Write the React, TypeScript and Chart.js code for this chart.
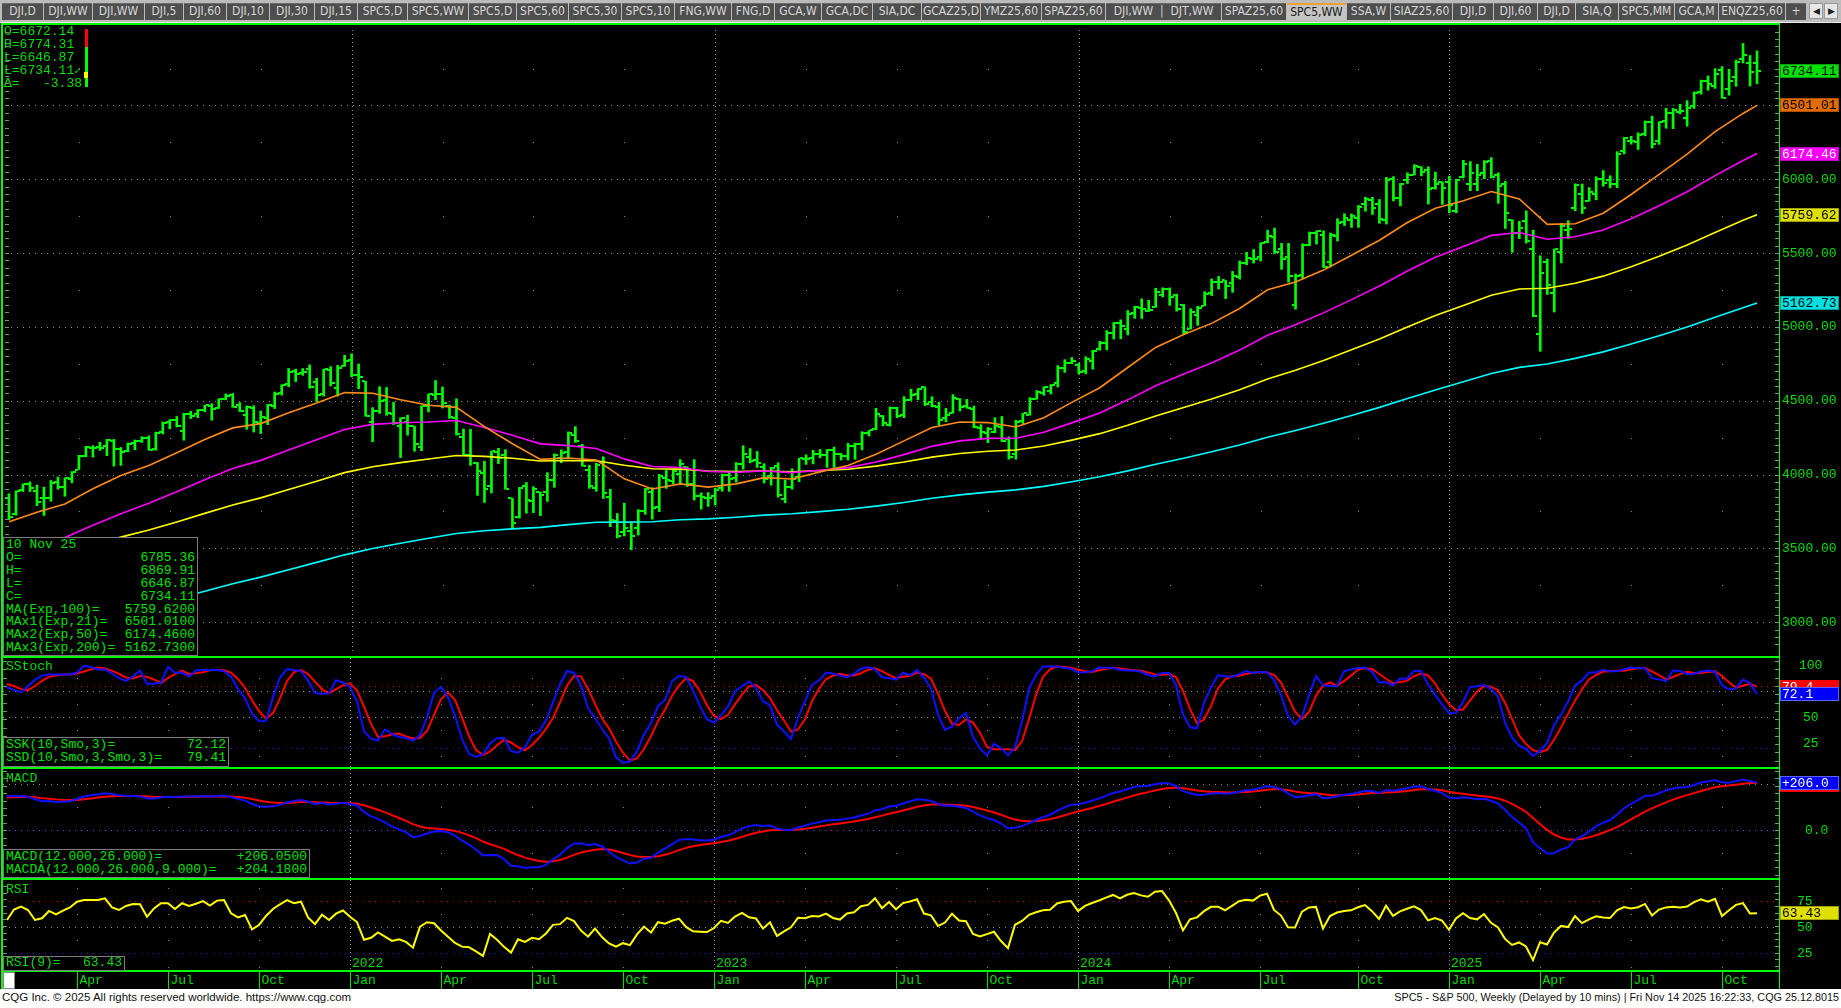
import React, { useEffect, useRef } from 'react';
import { Chart, registerables } from 'chart.js';

Chart.register(...registerables);

// ---------------- data (weekly bars, index 0 = week of 25 Jan 2021, index 250 = week of 10 Nov 2025) -------------
const opens = [3844,3731,3892,3939,3886,3843,3844,3949,3917,3969,4034,4124,4179,4185,4192,4228,4170,4160,4216,4229,4248,4173,4285,4356,4372,4297,4409,4407,4437,4462,4450,4514,4536,4469,4402,4454,4348,4385,4463,4553,4610,4701,4689,4712,4628,4548,4710,4587,4733,4778,4671,4632,4356,4432,4505,4412,4332,4354,4327,4189,4462,4541,4548,4462,4385,4255,4131,4081,4013,3920,4151,4135,3838,3715,3920,3820,3880,3883,3966,4113,4155,4269,4195,4034,3909,4083,3849,3682,3609,3620,3638,3755,3881,3780,3978,3956,4006,4053,3939,3853,3843,3853,3911,3999,3979,4070,4119,4097,4053,3992,4055,3835,3917,3982,4103,4110,4139,4134,4166,4136,4127,4190,4205,4283,4308,4396,4337,4450,4405,4502,4547,4590,4491,4459,4382,4415,4510,4462,4445,4314,4284,4289,4320,4239,4140,4364,4406,4511,4554,4569,4618,4725,4758,4745,4703,4772,4853,4888,4957,5026,4989,5093,5131,5111,5132,5219,5257,5218,5149,4987,5084,5143,5233,5306,5315,5297,5341,5432,5460,5471,5572,5611,5528,5476,5151,5353,5557,5637,5624,5442,5615,5711,5727,5737,5836,5857,5833,5723,6002,5875,5992,6032,6083,6063,5940,5979,5982,5788,6014,5969,5969,6046,6121,6026,5968,5725,5635,5718,5527,4953,5441,5232,5508,5655,5808,5902,5855,5897,6005,5993,5970,6193,6259,6256,6305,6390,6261,6397,6452,6458,6416,6498,6594,6663,6632,6737,6613,6690,6814,6790,6785.36];
const highs = [3870,3889,3937,3950,3929,3915,3960,3983,3978,4020,4130,4191,4195,4219,4238,4238,4183,4213,4234,4256,4262,4287,4356,4372,4393,4415,4429,4440,4468,4480,4513,4546,4549,4487,4465,4466,4430,4475,4559,4608,4718,4714,4718,4743,4652,4713,4731,4740,4808,4818,4749,4632,4453,4595,4590,4490,4385,4402,4327,4465,4546,4637,4593,4471,4513,4308,4307,4082,4090,4158,4178,4169,3838,3913,3946,3918,3880,4013,4140,4168,4289,4325,4204,4062,4077,4120,3900,3736,3806,3670,3762,3905,3911,4001,4028,4034,4101,4053,4101,3876,3878,3907,4003,4015,4081,4195,4176,4156,4073,4049,4079,3963,4039,4110,4133,4164,4170,4170,4186,4143,4212,4213,4290,4299,4448,4400,4458,4456,4528,4578,4582,4594,4527,4490,4448,4541,4514,4509,4464,4338,4319,4385,4393,4256,4367,4415,4521,4569,4595,4609,4738,4778,4793,4754,4798,4842,4903,4975,5030,5048,5111,5140,5190,5180,5262,5265,5264,5222,5152,5123,5139,5239,5325,5342,5315,5376,5447,5505,5524,5570,5655,5670,5566,5566,5358,5563,5643,5651,5651,5636,5733,5767,5765,5823,5879,5878,5863,6013,6018,5972,6044,6099,6085,6085,6049,5983,6021,6000,6128,6120,6101,6127,6147,6044,5986,5725,5715,5786,5655,5482,5460,5528,5700,5720,5969,5968,5944,6017,6059,6024,6187,6284,6291,6315,6395,6428,6390,6481,6480,6508,6533,6592,6672,6700,6750,6764,6745,6807,6920,6838,6869.91];
const lows = [3694,3725,3885,3885,3789,3723,3819,3901,3853,3944,4034,4120,4118,4164,4128,4057,4062,4155,4168,4218,4165,4165,4275,4310,4322,4233,4379,4385,4425,4368,4448,4506,4456,4427,4306,4288,4278,4338,4447,4538,4595,4630,4672,4585,4495,4532,4600,4531,4733,4662,4582,4395,4222,4414,4401,4339,4115,4267,4158,4162,4424,4506,4451,4381,4267,4128,4062,3859,3811,3875,4074,3900,3637,3705,3738,3742,3722,3818,3913,4080,4112,4218,4057,3907,3887,3838,3647,3571,3584,3491,3590,3731,3698,3749,3906,3939,3940,3919,3827,3765,3784,3794,3887,3886,3949,4037,4079,4048,3943,3928,3847,3809,3901,3951,4069,4072,4113,4049,4048,4098,4099,4103,4167,4261,4304,4329,4328,4385,4385,4502,4507,4467,4458,4335,4357,4415,4431,4449,4316,4238,4216,4283,4223,4104,4104,4346,4402,4511,4537,4546,4593,4692,4751,4682,4682,4714,4842,4845,4918,4920,4946,5058,5057,5104,5132,5203,5146,5107,4954,4986,5011,5142,5212,5257,5192,5234,5324,5421,5433,5447,5570,5497,5390,5303,5120,5330,5550,5561,5402,5406,5582,5687,5674,5674,5784,5762,5702,5697,5853,5820,5972,6030,6024,5832,5933,5830,5774,5773,6009,5923,5923,6004,6009,5837,5667,5505,5598,5568,5069,4835,5220,5101,5434,5598,5786,5768,5852,5861,5953,5942,5943,6172,6238,6202,6294,6212,6237,6346,6343,6444,6360,6480,6577,6603,6616,6550,6570,6630,6788,6632,6646.87];
const closes = [3714,3887,3934,3907,3811,3842,3943,3913,3975,4020,4129,4185,4180,4181,4233,4174,4156,4204,4230,4247,4166,4281,4352,4370,4327,4412,4395,4437,4468,4441,4509,4535,4459,4433,4455,4357,4391,4471,4545,4605,4697,4683,4698,4595,4538,4712,4620,4725,4766,4677,4663,4398,4432,4500,4419,4349,4385,4329,4204,4463,4543,4546,4488,4392,4272,4132,4123,4024,3901,4158,4109,3901,3675,3912,3825,3899,3863,3962,4130,4145,4280,4228,4058,3924,4067,3873,3693,3586,3640,3583,3752,3901,3771,3993,3965,4026,4072,3934,3852,3845,3840,3895,3999,3973,4071,4136,4090,4079,3970,4046,3862,3917,3971,4109,4105,4137,4133,4169,4136,4124,4191,4205,4282,4299,4410,4348,4450,4399,4505,4536,4582,4478,4464,4370,4406,4516,4457,4450,4320,4288,4308,4327,4224,4117,4358,4415,4514,4559,4595,4604,4719,4754,4770,4697,4784,4840,4891,4959,5027,5006,5089,5137,5124,5117,5234,5254,5204,5123,4967,5100,5128,5223,5303,5305,5278,5347,5432,5465,5460,5567,5615,5505,5459,5347,5344,5554,5634,5648,5408,5626,5703,5738,5751,5815,5864,5808,5729,5995,5870,5969,6032,6090,6051,5931,5971,5942,5827,5997,6101,6041,6026,6115,6013,5955,5770,5639,5668,5581,5074,5363,5283,5525,5687,5660,5958,5803,5912,6000,5977,5968,6173,6279,6260,6297,6389,6238,6389,6450,6467,6460,6482,6584,6664,6644,6716,6553,6664,6792,6840,6729,6734.11];

// moving averages read every 4 weeks
const maWeeks = [0,4,8,12,16,20,24,28,32,36,40,44,48,52,56,60,64,68,72,76,80,84,88,92,96,100,104,108,112,116,120,124,128,132,136,140,144,148,152,156,160,164,168,172,176,180,184,188,192,196,200,204,208,212,216,220,224,228,232,236,240,244,248,250];
const ema21 = [3680,3745,3800,3904,3994,4062,4148,4237,4316,4345,4419,4485,4555,4551,4507,4469,4455,4325,4209,4103,4112,4098,3971,3902,3937,3915,3937,3979,3970,4018,4061,4137,4228,4319,4356,4352,4322,4385,4489,4588,4725,4861,4948,5024,5125,5252,5304,5385,5486,5587,5707,5804,5855,5917,5867,5695,5699,5770,5897,6033,6170,6323,6446,6501.01];
const ema50 = [3450,3514,3574,3656,3735,3805,3883,3964,4041,4096,4167,4235,4305,4340,4351,4356,4366,4319,4266,4208,4196,4177,4106,4054,4048,4021,4016,4024,4013,4029,4047,4085,4135,4191,4228,4245,4246,4287,4350,4417,4506,4602,4681,4756,4843,4944,5014,5095,5185,5277,5379,5472,5545,5620,5640,5594,5611,5657,5733,5821,5916,6025,6127,6174.46];
const ema100 = [3400,3437,3474,3525,3576,3625,3679,3737,3794,3842,3899,3955,4013,4053,4081,4105,4129,4123,4110,4092,4095,4093,4063,4039,4037,4024,4021,4024,4019,4027,4036,4057,4085,4118,4143,4158,4166,4193,4233,4277,4334,4397,4454,4511,4575,4648,4707,4773,4845,4918,4999,5077,5145,5215,5257,5262,5296,5344,5408,5479,5555,5639,5722,5759.62];
const ema200 = [2900,2939,2977,3022,3068,3113,3160,3210,3260,3305,3355,3405,3456,3499,3534,3568,3601,3619,3632,3642,3661,3677,3678,3680,3694,3700,3711,3725,3734,3749,3765,3786,3811,3839,3862,3881,3896,3920,3951,3985,4025,4070,4111,4154,4200,4252,4298,4347,4400,4455,4515,4573,4628,4684,4726,4749,4787,4831,4884,4940,5000,5065,5130,5162.73];

// slow stochastic, weekly
const stochK = [
  79,76,74,80,86,90,91,91,91,91,
  93,99.5,98.4,95.9,96,92,87.5,84.9,89.1,94.8,
  82.1,82.2,83.1,98.5,92.8,93,89.1,95.2,95.5,95.5,
  95.5,94.3,89,77.1,68.4,53.3,46.1,46.4,69.3,88.4,
  96.4,95.4,94.2,85.2,73.2,72.5,72.9,85.6,83.4,78.9,
  65,36.3,29.3,27.5,38.3,33.7,30.9,30,27.2,32.7,
  50.1,73.4,79,69.1,51.6,28.8,14.7,11.7,14.2,24.7,
  29.7,29.9,17.3,15.7,21.2,32.8,36.3,47,64.3,81.7,
  94.5,92.8,80.5,58.8,49.2,38.6,29.7,11.3,6,7.4,
  17.2,33.3,44.4,60.6,66.6,84.6,89.7,88.8,75.7,60.6,
  48.1,44.7,51.7,60.6,74.7,79.8,84.3,78.3,65.4,61.5,
  42.8,36.2,29,49.2,65.5,81.3,85.3,93,92.1,90,
  88.4,91.9,96.6,98.3,96,88.5,87.8,86.2,92.8,90.5,
  95.3,88,77.9,52.2,37.7,40.9,49,54.1,31,19.9,
  13.2,24.2,20.3,13.2,21.2,45.7,77.4,90.7,98.7,98.9,
  98.7,97.5,96.7,93.1,93.2,94.2,97.8,97.6,97.5,95.5,
  95,95,93.7,90.6,89.2,92.6,92.6,80.7,52.7,40.3,
  39.3,63.6,78.8,90.4,89.4,89,91.2,94.3,92.6,93.4,
  93.3,85.7,71.2,51.3,43,50.7,71,89.5,80.6,80.1,
  79.8,94.2,96,97.3,97.9,93.8,83.7,83.6,80.5,87.2,
  87.1,94.5,94.5,81.6,71.7,62.4,53.8,54,64.5,78.9,
  79.7,81,77.3,69.7,44.8,30.4,22.6,19.4,12.6,17.5,
  24.9,42.3,52.4,64.9,80.4,85.4,93.1,93,95.6,94.1,
  94.2,96.2,97.9,97.2,97.1,87.6,86.4,84.8,94.9,94.4,
  91.6,91.8,94,94.9,93.5,80.7,76.6,77.7,86.2,82.8,
  72.12];
const stochD = [
  82,80,77,76,80,85,89,90,91,91,
  92,94,96,97.9,96.8,94.6,91.8,88.1,87.2,89.6,
  88.7,86.4,82.5,87.9,91.5,94.8,91.6,92.4,93.3,95.4,
  95.5,95.1,92.9,86.8,78.2,66.3,55.9,48.6,53.9,68,
  84.7,93.4,95.3,91.6,84.2,77,72.9,77,80.6,82.6,
  75.8,60.1,43.5,31,31.7,33.2,34.3,31.5,29.4,30,
  36.7,52.1,67.5,73.8,66.6,49.8,31.7,18.4,13.5,16.9,
  22.9,28.1,25.6,21,18.1,23.2,30.1,38.7,49.2,64.3,
  80.2,89.7,89.3,77.4,62.8,48.9,39.2,26.5,15.7,8.2,
  10.2,19.3,31.6,46.1,57.2,70.6,80.3,87.7,84.7,75,
  61.5,51.1,48.2,52.3,62.3,71.7,79.6,80.8,76,68.4,
  56.6,46.8,36,38.1,47.9,65.3,77.4,86.5,90.1,91.7,
  90.2,90.1,92.3,95.6,97,94.3,90.8,87.5,88.9,89.8,
  92.9,91.3,87.1,72.7,55.9,43.6,42.5,48,44.7,35,
  21.4,19.1,19.2,19.2,18.2,26.7,48.1,71.3,88.9,96.1,
  98.8,98.4,97.6,95.8,94.3,93.5,95.1,96.5,97.6,96.9,
  96,95.2,94.6,93.1,91.2,90.8,91.5,88.6,75.3,57.9,
  44.1,47.7,60.6,77.6,86.2,89.6,89.9,91.5,92.7,93.4,
  93.1,90.8,83.4,69.4,55.2,48.3,54.9,70.4,80.4,83.4,
  80.2,84.7,90,95.8,97.1,96.3,91.8,87,82.6,83.8,
  84.9,89.6,92,90.2,82.6,71.9,62.6,56.7,57.4,65.8,
  74.4,79.9,79.3,76,63.9,48.3,32.6,24.1,18.2,16.5,
  18.3,28.2,39.9,53.2,65.9,76.9,86.3,90.5,93.9,94.2,
  94.6,94.8,96.1,97.1,97.4,94,90.4,86.3,88.7,91.4,
  93.6,92.6,92.5,93.6,94.1,89.7,83.6,78.3,80.2,82.2,
  79.41];

// MACD(12,26) and its 9-week average, weekly
const macdLine = [
  148,147,148.3,145.4,133.9,125.8,126.1,122.5,123.2,125.9,
  135.4,145.7,151.7,154.8,159.5,156.7,151.3,149.1,147.8,146.5,
  137.3,137.7,142.1,145.4,142.9,146.1,145.6,146.9,148.6,146.1,
  148,149.8,143.5,134.8,128.2,113.8,103.9,101.3,104.1,109.9,
  120.5,126.3,130.7,124.3,113.4,117.5,111.9,114.6,118.8,113.6,
  107.1,79.7,60,49.3,33.9,15.9,4.5,-9,-29.4,-24.4,
  -13.8,-5.1,-2.8,-8.7,-22.8,-44.8,-62.2,-83,-108.2,-106.2,
  -107.3,-123.6,-153,-155.4,-162.4,-160.1,-159.4,-149.1,-125.9,-105.1,
  -76.9,-58,-56.2,-64.8,-59.4,-69.9,-91.7,-116.3,-129.9,-143.7,
  -139.3,-122.5,-118.3,-95.9,-79.5,-60.8,-41.8,-37.5,-40.2,-42.5,
  -44.2,-40.6,-29,-21.7,-7.9,8.2,17,22.8,18.4,20.8,
  7.8,1.9,1.5,12.2,20.2,28.8,34.9,42.1,44.6,45.1,
  50.4,55.1,64.2,72,86.2,91.3,102.4,105.9,115.9,124.9,
  134.1,131.5,126.9,114.3,106,107,101.9,96.2,80.2,64.2,
  52.6,44.4,29.3,8.6,11.5,18.2,31.1,44.4,57.2,67.3,
  83.6,98.3,110,112,119.3,128.1,137.6,148.9,161.4,167.7,
  177.3,186.7,190.9,191.5,199.1,204.4,202.2,191.8,168.9,159.7,
  152.9,153.4,158.4,160.6,158.4,160.4,166.9,172.7,174.9,183.1,
  191.3,186.8,177.5,159.2,142.8,145.2,151.7,156.2,138.8,140.9,
  147.2,153.2,157.2,163.7,170.8,169.9,161,173.4,171.2,175.4,
  181.7,189.2,189.8,178.5,170.8,160.5,141.4,138.4,142.8,139.8,
  134.7,136.3,127.8,115,88.9,57.1,33.8,8.2,-52.3,-76.1,
  -100.3,-98.8,-83.5,-72.7,-39.7,-25.8,-5.9,16.8,32.6,43.9,
  68.5,95.5,114,130.2,148.8,149.6,160.6,172.2,180.7,184.7,
  187.5,195.7,206.3,210.6,217.4,207.2,205.7,212.4,219.1,212.9,
  206.05];
const macdSignal = [
  142,143,144.1,144.4,142.3,139,136.4,133.6,131.5,130.4,
  131.4,134.3,137.8,141.2,144.9,147.3,148.1,148.3,148.2,147.9,
  145.8,144.2,143.8,144.1,143.9,144.3,144.6,145.1,145.8,145.9,
  146.3,147,146.3,144,140.8,135.4,129.1,123.5,119.6,117.7,
  118.3,119.9,122.1,122.5,120.7,120.1,118.5,117.7,117.9,117,
  115,107.9,98.3,88.5,77.6,65.3,53.1,40.7,26.7,16.5,
  10.4,7.3,5.3,2.5,-2.6,-11,-21.2,-33.6,-48.5,-60,
  -69.5,-80.3,-94.8,-106.9,-118,-126.4,-133,-136.2,-134.1,-128.3,
  -118,-106,-96,-89.8,-83.7,-81,-83.1,-89.7,-97.8,-107,
  -113.4,-115.2,-115.8,-111.8,-105.3,-96.4,-85.5,-75.9,-68.8,-63.5,
  -59.6,-55.8,-50.5,-44.7,-37.4,-28.3,-19.2,-10.8,-5,0.2,
  1.7,1.7,1.7,3.8,7.1,11.4,16.1,21.3,26,29.8,
  33.9,38.1,43.3,49,56.4,63.4,71.2,78.1,85.7,93.5,
  101.6,107.6,111.5,112,110.8,110,108.4,106,100.8,93.5,
  85.3,77.1,67.5,55.7,46.9,41.2,39.2,40.2,43.6,48.3,
  55.4,64,73.2,81,88.7,96.6,104.8,113.6,123.2,132.1,
  141.1,150.2,158.3,165,171.8,178.3,183.1,184.8,181.6,177.2,
  172.3,168.5,166.5,165.3,163.9,163.2,163.9,165.7,167.5,170.6,
  174.7,177.1,177.2,173.6,167.4,163,160.7,159.8,155.6,152.7,
  151.6,151.9,153,155.1,158.2,160.6,160.7,163.2,164.8,166.9,
  169.9,173.8,177,177.3,176,172.9,166.6,161,157.4,153.9,
  150.1,147.3,143.4,137.7,128,113.8,97.8,79.9,53.5,27.6,
  2,-18.2,-31.3,-39.6,-39.6,-36.8,-30.6,-21.1,-10.4,0.5,
  14.1,30.4,47.1,63.7,80.7,94.5,107.7,120.6,132.6,143,
  151.9,160.7,169.8,178,185.9,190.2,193.3,197.1,201.5,203.8,
  204.18];

// RSI(9), weekly
const rsiValues = [
  57,67,69.7,66.5,57,58.6,65.6,62.4,65.9,69,
  74.5,76,76,76,77.7,69,66.5,70.4,72.3,72,
  60,68,73,73,67.5,73,70.4,72.5,75,70.7,
  75.5,76,63.4,59.5,61.8,48,52.2,60.8,67.5,72,
  76,73,74.5,59.5,53,62,57,63,66,60,
  55,38,40,45,41,37,38.5,36,30.5,50.6,
  54.8,53.8,47,41,35,31.5,31,27,22.6,43.6,
  38,31.3,25.8,38.6,36.1,39.9,38.6,44.1,52.3,53,
  59,55.9,46.9,41,48.7,40.6,34.6,31.5,34.8,32.9,
  43.2,50.7,44.9,54.9,53.5,56.2,58.2,50.3,46.1,45.7,
  45.4,49.3,56.2,54.1,60.2,63.8,59.6,58.5,48.8,54.8,
  41.7,46,50,59,58.7,60.8,60.3,63,58.9,57.4,
  63.2,64.3,70.1,71.4,77.8,68.3,74.2,67.2,73.1,74.6,
  76.8,63.1,61.4,51.3,54.5,63,56.5,55.8,43.7,41.2,
  43.5,45.7,36.9,30.1,52.4,56.1,61.9,64.3,66.3,66.8,
  72.7,74.3,75,65.4,70.4,73.2,75.6,78.4,80.9,77.7,
  81.1,82.7,80.5,79.2,84,84.6,75.8,63.6,47.1,57.6,
  59.5,65.4,69.6,69.7,66.3,70.5,74.9,76.4,75.5,80.3,
  82.1,66.6,61.2,50,49.7,64.9,68.9,69.5,48.8,60.8,
  64.1,65.6,66.2,69.1,71.2,65.4,57.9,70.6,60.9,65.2,
  67.7,70,66.4,56.6,58.8,56.4,47.6,58.4,63.5,58.8,
  57.6,62.6,54.3,49.9,38.9,33.1,35.5,31.7,18.6,35.7,
  33.5,45,51.3,50.2,60.6,54,57.6,60.5,59.3,58.8,
  66.1,69.3,68,69.2,72.3,61.2,66.9,69,69.6,68.9,
  69.8,74,76.8,74.5,77.2,60.7,66.2,71.4,73.1,63.2,
  63.43];

// time axis
const quarterWeeks = [10,23,36,49,62,75,88,101,114,127,140,153,166,179,193,206,219,232,245];
const quarterLabels = ['Apr','Jul','Oct','Jan','Apr','Jul','Oct','Jan','Apr','Jul','Oct','Jan','Apr','Jul','Oct','Jan','Apr','Jul','Oct'];
const yearWeeks = [49,101,153,206];
const yearLabels = ['2022','2023','2024','2025'];
const priceTicks = [3000,3500,4000,4500,5000,5500,6000,6500];

const tabLabels = ['DJI,D','DJI,WW','DJI,WW','DJI,5','DJI,60','DJI,10','DJI,30','DJI,15','SPC5,D','SPC5,WW','SPC5,D','SPC5,60','SPC5,30','SPC5,10','FNG,WW','FNG,D','GCA,W','GCA,DC','SIA,DC','GCAZ25,D','YMZ25,60','SPAZ25,60','DJI,WW  |  DJT,WW','SPAZ25,60','SPC5,WW','SSA,W','SIAZ25,60','DJI,D','DJI,60','DJI,D','SIA,Q','SPC5,MM','GCA,M','ENQZ25,60','+'];
const tabWidths = [42,49,52,39,43,43,45,43,50,61,48,52,53,53,57,43,47,51,49,59,61,64,116,65,60,44,62,41,44,38,43,56,44,67,21];
const selectedTab = 24;

// ---------------- layout constants ----------------
const W = 1841;
const PLOT_L = 3;
const PLOT_R = 1779;
const AXIS_W = W - PLOT_R;
const X_MIN = -4 / 7;
const X_MAX = X_MIN + (PLOT_R - PLOT_L) / 7;
const GREEN = '#00e000';
const BAR_GREEN = '#00ff00';
const MONO = "'Liberation Mono', 'DejaVu Sans Mono', monospace";
const GRIDC = '#8c8c8c';

const pts = (weeks: number[], vals: number[]) => weeks.map((w, k) => ({ x: w, y: vals[k] }));
const weekly = (vals: number[]) => vals.map((v, i) => ({ x: i, y: v }));

const deco = {
  id: 'deco',
  beforeDatasetsDraw(chart: any, _a: any, o: any) {
    const { ctx, chartArea: a } = chart;
    const xs = chart.scales.x, ys = chart.scales.y;
    ctx.save();
    ctx.beginPath();
    ctx.rect(a.left, a.top, a.right - a.left, a.bottom - a.top);
    ctx.clip();
    ctx.lineWidth = 1;
    for (const lv of o.levels || []) {
      const py = Math.round(ys.getPixelForValue(lv.v)) + 0.5;
      ctx.strokeStyle = lv.c;
      ctx.setLineDash([1, 5]);
      ctx.beginPath();
      ctx.moveTo(a.left, py);
      ctx.lineTo(a.right, py);
      ctx.stroke();
    }
    ctx.strokeStyle = GRIDC;
    ctx.setLineDash([1, 3]);
    for (const w of yearWeeks) {
      const px = Math.round(xs.getPixelForValue(w)) + 0.5;
      ctx.beginPath();
      ctx.moveTo(px, a.top);
      ctx.lineTo(px, a.bottom);
      ctx.stroke();
    }
    ctx.setLineDash([]);
    ctx.fillStyle = GRIDC;
    for (const w of quarterWeeks) {
      if (yearWeeks.includes(w)) continue;
      const px = Math.round(xs.getPixelForValue(w));
      for (const v of o.dots || []) ctx.fillRect(px, Math.round(ys.getPixelForValue(v)), 1, 1);
    }
    ctx.restore();
  },
  afterDatasetsDraw(chart: any, _a: any, o: any) {
    const { ctx, chartArea: a } = chart;
    const ys = chart.scales.y;
    ctx.save();
    ctx.strokeStyle = '#8a8a8a';
    ctx.lineWidth = 1;
    const step = o.minorStep;
    for (let v = Math.ceil(ys.min / step) * step; v <= ys.max; v += step) {
      const py = Math.round(ys.getPixelForValue(v)) + 0.5;
      ctx.beginPath();
      ctx.moveTo(a.right - 4, py);
      ctx.lineTo(a.right, py);
      ctx.moveTo(a.left, py);
      ctx.lineTo(a.left + 4, py);
      ctx.stroke();
    }
    ctx.restore();
  },
  afterDraw(chart: any, _a: any, o: any) {
    const { ctx, chartArea: a } = chart;
    const xs = chart.scales.x, ys = chart.scales.y;
    ctx.save();
    ctx.font = `13px ${MONO}`;
    ctx.textBaseline = 'middle';
    for (const t of o.tags || []) {
      const py = Math.round(ys.getPixelForValue(t.v)) + (t.dy || 0);
      ctx.fillStyle = t.bg;
      ctx.fillRect(a.right + 1, py - 7, 59, 14 + (t.extra || 0));
      if (t.border) {
        ctx.strokeStyle = t.border;
        ctx.lineWidth = 1;
        ctx.strokeRect(a.right + 1.5, py - 6.5, 58, 13);
      }
      ctx.fillStyle = t.fg;
      ctx.textAlign = 'left';
      ctx.fillText(t.text, a.right + 3, py + 1);
    }
    if (o.timeAxis) {
      ctx.fillStyle = GREEN;
      ctx.textAlign = 'left';
      yearWeeks.forEach((w, k) => {
        const px = Math.round(xs.getPixelForValue(w));
        ctx.fillText(yearLabels[k], px + 2, a.bottom - 6);
      });
      ctx.strokeStyle = GREEN;
      ctx.lineWidth = 1;
      quarterWeeks.forEach((w, k) => {
        const px = Math.round(xs.getPixelForValue(w)) + 0.5;
        ctx.beginPath();
        ctx.moveTo(px, a.bottom + 2);
        ctx.lineTo(px, chart.height);
        ctx.stroke();
        ctx.fillText(quarterLabels[k], px + 2, a.bottom + 11);
      });
    }
    ctx.restore();
  },
};

function yAxis(min: number, max: number, ticks: number[], fmt: (v: number) => string, padding: number, cross: string) {
  return {
    position: 'right',
    min,
    max,
    afterBuildTicks: (s: any) => { s.ticks = ticks.map((v) => ({ value: v })); },
    afterFit: (s: any) => { s.width = AXIS_W; s.paddingTop = 0; s.paddingBottom = 0; },
    grid: { display: false, drawTicks: false },
    border: { display: false },
    ticks: { color: GREEN, font: { family: MONO, size: 13 }, padding, crossAlign: cross, autoSkip: false, callback: (v: any) => fmt(Number(v)) },
  };
}

const xAxis = () => ({ type: 'linear', min: X_MIN, max: X_MAX, display: false, offset: false });

function baseOptions(y: any, decoOpts: any, bottomPad = 0) {
  return {
    responsive: false,
    animation: false,
    devicePixelRatio: 1,
    events: [],
    layout: { padding: { left: PLOT_L, right: 0, top: 0, bottom: bottomPad } },
    plugins: { legend: { display: false }, tooltip: { enabled: false }, deco: decoOpts },
    scales: { x: xAxis(), y },
  };
}

function tickImage(side: 'left' | 'right') {
  const c = document.createElement('canvas');
  c.width = 8;
  c.height = 2;
  const g = c.getContext('2d')!;
  g.fillStyle = BAR_GREEN;
  if (side === 'left') g.fillRect(0, 0, 3, 2);
  else g.fillRect(5, 0, 3, 2);
  return c;
}

const lineDs = (data: any[], color: string, width = 2) => ({
  type: 'line', data, borderColor: color, borderWidth: width, pointRadius: 0, tension: 0, fill: false,
});

export default function App() {
  const mainRef = useRef<HTMLCanvasElement>(null);
  const stochRef = useRef<HTMLCanvasElement>(null);
  const macdRef = useRef<HTMLCanvasElement>(null);
  const rsiRef = useRef<HTMLCanvasElement>(null);

  useEffect(() => {
    const charts: Chart[] = [];
    const weeks = closes.map((_, i) => i);
    const main: any = {
      type: 'bar',
      data: {
        datasets: [
          { ...lineDs(pts(maWeeks, ema21), '#ff8c1a', 1.6), order: 1 },
          { ...lineDs(pts(maWeeks, ema50), '#ff00ff', 1.6), order: 1 },
          { ...lineDs(pts(maWeeks, ema100), '#ffff00', 1.6), order: 1 },
          { ...lineDs(pts(maWeeks, ema200), '#00ffff', 1.6), order: 1 },
          { type: 'bar', data: weeks.map((i) => ({ x: i, y: [lows[i], highs[i]] })), backgroundColor: BAR_GREEN, borderWidth: 0, barThickness: 2, order: 2 },
          { type: 'scatter', data: weeks.map((i) => ({ x: i, y: opens[i] })), pointStyle: tickImage('left'), pointRadius: 3, order: 2 },
          { type: 'scatter', data: weeks.map((i) => ({ x: i, y: closes[i] })), pointStyle: tickImage('right'), pointRadius: 3, order: 2 },
        ],
      },
      options: baseOptions(
        yAxis(2804.7, 7011.3, priceTicks, (v) => v.toFixed(2), 3, 'near'),
        {
          levels: priceTicks.map((v) => ({ v, c: GRIDC })),
          dots: [3250, 3750, 4250, 4750, 5250, 5750, 6250, 6750],
          minorStep: 50,
          tags: [
            { v: 6734.11, text: '6734.11', bg: '#00e000', fg: '#000', border: '#00a000' },
            { v: 6501.01, text: '6501.01', bg: '#e06c00', fg: '#000', border: '#b05000' },
            { v: 6174.46, text: '6174.46', bg: '#ff00ff', fg: '#fff', border: '#c000c0' },
            { v: 5759.62, text: '5759.62', bg: '#e0e000', fg: '#000', border: '#a0a000' },
            { v: 5162.73, text: '5162.73', bg: '#00e0e0', fg: '#000', border: '#00a0a0' },
          ],
        }
      ),
      plugins: [deco],
    };
    charts.push(new Chart(mainRef.current!, main));

    const stoch: any = {
      type: 'line',
      data: { datasets: [lineDs(weekly(stochK), '#1010ff'), lineDs(weekly(stochD), '#ff0000')] },
      options: baseOptions(
        yAxis(1.99, 106.97, [25, 50, 75, 100], (v) => String(v), 20, 'center'),
        {
          levels: [{ v: 80, c: '#c00000' }, { v: 75, c: GRIDC }, { v: 50, c: GRIDC }, { v: 20, c: '#2020d0' }],
          dots: [12.5, 37.5, 62.5, 87.5],
          minorStep: 8,
          tags: [
            { v: 79.41, text: '79.4', bg: '#ff0000', fg: '#fff' },
            { v: 72.12, text: '72.1', bg: '#0000ff', fg: '#fff', border: '#6060ff' },
          ],
        }
      ),
      plugins: [deco],
    };
    charts.push(new Chart(stochRef.current!, stoch));

    const macd: any = {
      type: 'line',
      data: { datasets: [lineDs(weekly(macdLine), '#1010ff'), lineDs(weekly(macdSignal), '#ff0000')] },
      options: baseOptions(
        yAxis(-206, 264.8, [0], (v) => v.toFixed(1), 26, 'center'),
        {
          levels: [{ v: 200, c: GRIDC }, { v: 0, c: '#8a2be2' }],
          dots: [-100, 100],
          minorStep: 32,
          tags: [
            { v: 204.18, text: '', bg: '#ff0000', fg: '#fff', dy: 1, extra: 1 },
            { v: 206.05, text: '+206.0', bg: '#0000ff', fg: '#fff', border: '#6060ff' },
          ],
        }
      ),
      plugins: [deco],
    };
    charts.push(new Chart(macdRef.current!, macd));

    const rsi: any = {
      type: 'line',
      data: { datasets: [lineDs(weekly(rsiValues), '#ffff00')] },
      options: baseOptions(
        yAxis(9.16, 95.2, [25, 50, 75], (v) => String(v), 18, 'center'),
        {
          levels: [{ v: 75, c: '#c00000' }, { v: 50, c: GRIDC }, { v: 25, c: '#2020d0' }],
          dots: [12.5, 37.5, 62.5, 87.5],
          minorStep: 6.4,
          tags: [{ v: 63.43, text: '63.43', bg: '#e0e000', fg: '#000', border: '#a0a000' }],
          timeAxis: true,
        },
        19
      ),
      plugins: [deco],
    };
    charts.push(new Chart(rsiRef.current!, rsi));

    return () => charts.forEach((c) => c.destroy());
  }, []);

  const monoText: React.CSSProperties = { fontFamily: MONO, fontSize: 13, color: GREEN, lineHeight: '12.9px', whiteSpace: 'pre' };
  const canvasStyle = (top: number, h: number): React.CSSProperties => ({ position: 'absolute', left: 0, top, width: W, height: h });
  const hLine = (top: number, h = 2): React.CSSProperties => ({ position: 'absolute', left: 1, top, width: PLOT_R - 1, height: h, background: '#00ff00' });

  let tabX = 2;
  const tabs = tabLabels.map((t, k) => {
    const left = tabX;
    tabX += tabWidths[k];
    const sel = k === selectedTab;
    return (
      <div key={k} style={{
        position: 'absolute', left, top: 3, width: tabWidths[k] - 1, height: 17,
        background: sel ? '#c4c4c4' : '#4e4e4e', color: sel ? '#1a1a1a' : '#d6d6d6',
        borderTop: sel ? '2px solid #f0a030' : '1px solid #6a6a6a', boxSizing: 'border-box',
        fontFamily: "'Liberation Sans Narrow', 'DejaVu Sans Condensed', 'Liberation Sans', sans-serif", fontSize: 12,
        lineHeight: '15px', textAlign: 'center', whiteSpace: 'pre', overflow: 'hidden',
      }}>{t}</div>
    );
  });

  const infoRows: [string, string][] = [
    ['O=', '6785.36'], ['H=', '6869.91'], ['L=', '6646.87'], ['C=', '6734.11'],
    ['MA(Exp,100)=', '5759.6200'], ['MAx1(Exp,21)=', '6501.0100'], ['MAx2(Exp,50)=', '6174.4600'], ['MAx3(Exp,200)=', '5162.7300'],
  ];

  return (
    <div style={{ position: 'fixed', left: 0, top: 0, width: W, height: 1008, background: '#000', overflow: 'hidden' }}>
      {/* tab bar */}
      <div style={{ position: 'absolute', left: 0, top: 0, width: W, height: 22, background: '#bcbcbc', borderBottom: '1px solid #e8e8e8' }}>
        {tabs}
        <div style={{ position: 'absolute', left: 1809, top: 3, width: 14, height: 16, background: '#e6e6e6', border: '1px solid #999', boxSizing: 'border-box', fontSize: 9, lineHeight: '14px', textAlign: 'center', color: '#222' }}>◀</div>
        <div style={{ position: 'absolute', left: 1824, top: 3, width: 14, height: 16, background: '#e6e6e6', border: '1px solid #999', boxSizing: 'border-box', fontSize: 9, lineHeight: '14px', textAlign: 'center', color: '#222' }}>▶</div>
      </div>

      <canvas ref={mainRef} width={W} height={631} style={canvasStyle(25, 631)} />
      <canvas ref={stochRef} width={W} height={109} style={canvasStyle(658, 109)} />
      <canvas ref={macdRef} width={W} height={109} style={canvasStyle(769, 109)} />
      <canvas ref={rsiRef} width={W} height={109} style={canvasStyle(880, 109)} />

      {/* frame */}
      <div style={hLine(23)} />
      <div style={hLine(656)} />
      <div style={hLine(767)} />
      <div style={hLine(878)} />
      <div style={hLine(970)} />
      <div style={{ position: 'absolute', left: 1, top: 23, width: 2, height: 966, background: '#00ff00' }} />
      <div style={{ position: 'absolute', left: PLOT_R, top: 23, width: 1, height: 966, background: '#00ff00' }} />

      {/* top-left readout */}
      <div style={{ ...monoText, position: 'absolute', left: 4, top: 26 }}>
        {'O=6672.14\nH=6774.31\nL=6646.87\nL=6734.11'}<span style={{ fontSize: 11 }}>✓</span>{'\nΔ=   -3.38'}
      </div>
      <div style={{ position: 'absolute', left: 85, top: 29, width: 3, height: 18, background: '#ff0000' }} />
      <div style={{ position: 'absolute', left: 85, top: 47, width: 3, height: 40, background: '#00ff00' }} />
      <div style={{ position: 'absolute', left: 84, top: 72, width: 4, height: 6, background: '#ffff00' }} />

      {/* info box */}
      <div style={{ ...monoText, position: 'absolute', left: 3, top: 537, width: 195, height: 119, boxSizing: 'border-box', border: '1px solid #7c7c7c', background: '#000', padding: '1px 2px 0 2px' }}>
        <div>10 Nov 25</div>
        {infoRows.map(([l, v], k) => (
          <div key={k} style={{ display: 'flex', justifyContent: 'space-between' }}><span>{l}</span><span>{v}</span></div>
        ))}
      </div>

      {/* indicator titles and boxes */}
      <div style={{ ...monoText, position: 'absolute', left: 6, top: 661 }}>SStoch</div>
      <div style={{ ...monoText, position: 'absolute', left: 3, top: 737, width: 226, height: 30, boxSizing: 'border-box', border: '1px solid #7c7c7c', background: '#000', padding: '1px 2px' }}>
        <div style={{ display: 'flex', justifyContent: 'space-between' }}><span>SSK(10,Smo,3)=</span><span>72.12</span></div>
        <div style={{ display: 'flex', justifyContent: 'space-between' }}><span>SSD(10,Smo,3,Smo,3)=</span><span>79.41</span></div>
      </div>
      <div style={{ ...monoText, position: 'absolute', left: 6, top: 773 }}>MACD</div>
      <div style={{ ...monoText, position: 'absolute', left: 3, top: 849, width: 307, height: 29, boxSizing: 'border-box', border: '1px solid #7c7c7c', background: '#000', padding: '1px 2px' }}>
        <div style={{ display: 'flex', justifyContent: 'space-between' }}><span>MACD(12.000,26.000)=</span><span>+206.0500</span></div>
        <div style={{ display: 'flex', justifyContent: 'space-between' }}><span>MACDA(12.000,26.000,9.000)=</span><span>+204.1800</span></div>
      </div>
      <div style={{ ...monoText, position: 'absolute', left: 6, top: 884 }}>RSI</div>
      <div style={{ ...monoText, position: 'absolute', left: 3, top: 956, width: 122, height: 15, boxSizing: 'border-box', border: '1px solid #7c7c7c', background: '#000', padding: '0 2px' }}>
        <div style={{ display: 'flex', justifyContent: 'space-between' }}><span>RSI(9)=</span><span>63.43</span></div>
      </div>
      <div style={{ position: 'absolute', left: 3, top: 972, width: 12, height: 17, background: '#fff', border: '1px solid #888', boxSizing: 'border-box' }} />

      {/* footer */}
      <div style={{ position: 'absolute', left: 0, top: 989, width: W, height: 19, background: '#fff' }}>
        <div style={{ position: 'absolute', left: 2, top: 2, fontFamily: "'Liberation Sans', sans-serif", fontSize: 11.5, color: '#111', whiteSpace: 'pre' }}>CQG Inc. © 2025 All rights reserved worldwide. https://www.cqg.com</div>
        <div style={{ position: 'absolute', right: 2, top: 2, fontFamily: "'Liberation Sans', sans-serif", fontSize: 10.8, color: '#111', whiteSpace: 'pre' }}>SPC5 - S&amp;P 500, Weekly (Delayed by 10 mins) | Fri Nov 14 2025 16:22:33, CQG 25.12.8015</div>
      </div>
    </div>
  );
}
